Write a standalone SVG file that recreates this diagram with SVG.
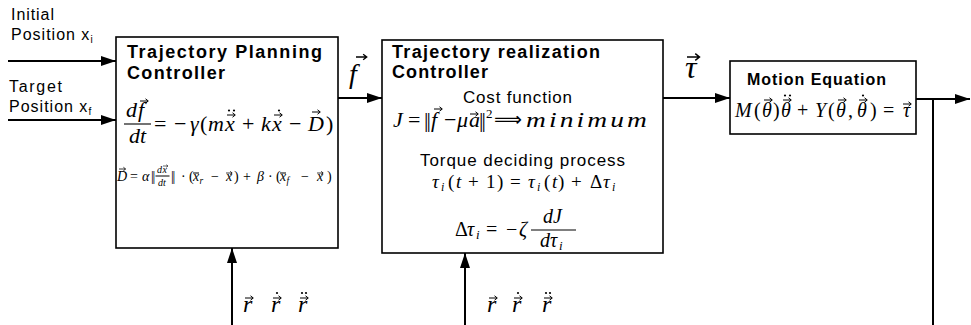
<svg xmlns="http://www.w3.org/2000/svg" width="971" height="325" viewBox="0 0 971 325">
<style>
.box{fill:#fff;stroke:#000;stroke-width:1.6}
.ln{stroke:#000;stroke-width:2;fill:none}
.fr{stroke:#000;stroke-width:1.1}
.sans{font-family:"Liberation Sans",Arial,sans-serif;fill:#000}
.b{font-weight:bold}
.m{font-family:"Liberation Serif","DejaVu Serif",serif;font-style:italic;fill:#000}
.u{font-style:normal}
.acc{stroke:#000;stroke-width:1;fill:none}
</style>
<defs>
<marker id="ah" markerUnits="userSpaceOnUse" markerWidth="15" markerHeight="10" refX="15" refY="5" orient="auto"><path d="M0,0 L15,5 L0,10 z" fill="#000"/></marker>
<g id="va"><path d="M0,0 H8 M5.5,-2.2 L8.3,0 L5.5,2.2" class="acc"/></g>
<circle id="dt" r="1.1" fill="#000"/>
</defs>
<rect width="971" height="325" fill="#fff"/>

<g id="connectors">
<line class="ln" x1="8" y1="61" x2="116" y2="61" marker-end="url(#ah)"/>
<line class="ln" x1="8" y1="120" x2="116" y2="120" marker-end="url(#ah)"/>
<line class="ln" x1="338" y1="98" x2="382" y2="98" marker-end="url(#ah)"/>
<line class="ln" x1="663" y1="98" x2="730" y2="98" marker-end="url(#ah)"/>
<line class="ln" x1="916" y1="99" x2="970" y2="99" marker-end="url(#ah)"/>
<line class="ln" x1="933" y1="99" x2="933" y2="325"/>
<line class="ln" x1="232" y1="325" x2="232" y2="248" marker-end="url(#ah)"/>
<line class="ln" x1="465" y1="325" x2="465" y2="253" marker-end="url(#ah)"/>
</g>

<g id="input-labels">
<text class="sans" font-size="16" x="11" y="20" textLength="43" lengthAdjust="spacing">Initial</text>
<text class="sans" font-size="16" x="11" y="40" letter-spacing="1">Position x<tspan font-size="10" dy="3" letter-spacing="0">i</tspan></text>
<text class="sans" font-size="16" x="9" y="92" textLength="53" lengthAdjust="spacing">Target</text>
<text class="sans" font-size="16" x="9" y="112" letter-spacing="1">Position x<tspan font-size="10" dy="3" letter-spacing="0">f</tspan></text>
</g>

<g id="signal-labels">
<text class="m" font-size="28" x="349" y="83">f</text>
<use href="#va" transform="translate(356,57) scale(1.3)"/>
<text class="m" font-size="32" x="685" y="78">τ</text>
<use href="#va" transform="translate(687,57) scale(1.5)"/>
<text class="m" font-size="24" y="312"><tspan x="243">r</tspan><tspan x="271">r</tspan><tspan x="298">r</tspan></text>
<use href="#va" x="245" y="298"/><use href="#va" x="273" y="298"/><use href="#va" x="300" y="298"/>
<use href="#dt" x="277" y="293"/><use href="#dt" x="302" y="293"/><use href="#dt" x="306" y="293"/>
<text class="m" font-size="24" y="312"><tspan x="487">r</tspan><tspan x="512">r</tspan><tspan x="542">r</tspan></text>
<use href="#va" x="489" y="298"/><use href="#va" x="514" y="298"/><use href="#va" x="544" y="298"/>
<use href="#dt" x="518" y="293"/><use href="#dt" x="546" y="293"/><use href="#dt" x="550" y="293"/>
</g>

<g id="planning">
<rect class="box" x="116" y="37" width="222" height="211"/>
<text class="sans b" font-size="18" x="127" y="58" textLength="195" lengthAdjust="spacing">Trajectory Planning</text>
<text class="sans b" font-size="18" x="127" y="79" textLength="98" lengthAdjust="spacing">Controller</text>
<text class="m" font-size="22"><tspan x="126" y="117">d</tspan><tspan x="138">f</tspan><tspan x="129" y="143">dt</tspan></text>
<use href="#va" x="140" y="101"/>
<line class="fr" x1="124" y1="124" x2="151" y2="124"/>
<text class="m" font-size="22" y="131"><tspan x="154" class="u">=</tspan><tspan x="174" class="u">−</tspan><tspan x="190">γ</tspan><tspan x="200" class="u">(</tspan><tspan x="208">m</tspan><tspan x="225">x</tspan><tspan x="242" class="u">+</tspan><tspan x="261">k</tspan><tspan x="272">x</tspan><tspan x="289" class="u">−</tspan><tspan x="308">D</tspan><tspan x="326" class="u">)</tspan></text>
<use href="#va" x="227" y="115"/><use href="#dt" x="229" y="110.5"/><use href="#dt" x="234" y="110.5"/>
<use href="#va" x="274" y="115"/><use href="#dt" x="279" y="110.5"/>
<use href="#va" x="312" y="112"/>
<text class="m" font-size="14" y="181"><tspan x="117">D</tspan><tspan x="130" class="u">=</tspan><tspan x="142">α</tspan><tspan x="151" class="u" letter-spacing="-1.2">||</tspan></text>
<text class="m" font-size="10"><tspan x="157" y="172.5">d</tspan><tspan x="162.5">x</tspan><tspan x="158" y="186">dt</tspan></text>
<use href="#va" transform="translate(163,166) scale(0.6)"/>
<line class="acc" x1="155.5" y1="176" x2="169.5" y2="176"/>
<text class="m" font-size="14" y="181"><tspan x="171" class="u" letter-spacing="-1.2">||</tspan><tspan x="181" class="u">·</tspan><tspan x="189" class="u">(</tspan><tspan x="193">x</tspan><tspan x="199.5" dy="3" font-size="9.5">r</tspan><tspan x="211" dy="-3" class="u">−</tspan><tspan x="226">x</tspan><tspan x="234" class="u">)</tspan><tspan x="243" class="u">+</tspan><tspan x="257">β</tspan><tspan x="268" class="u">·</tspan><tspan x="276" class="u">(</tspan><tspan x="280">x</tspan><tspan x="286.5" dy="3" font-size="9.5">f</tspan><tspan x="301" dy="-3" class="u">−</tspan><tspan x="317">x</tspan><tspan x="327" class="u">)</tspan></text>
<use href="#va" transform="translate(119,169) scale(0.8)"/>
<line class="acc" x1="193" y1="173" x2="199" y2="173"/>
<line class="acc" x1="280" y1="173" x2="286" y2="173"/>
<use href="#va" transform="translate(226,173) scale(0.75)"/>
<use href="#va" transform="translate(317,173) scale(0.75)"/>
</g>

<g id="realization">
<rect class="box" x="382" y="40" width="281" height="213"/>
<text class="sans b" font-size="18" x="392" y="58" textLength="208" lengthAdjust="spacing">Trajectory realization</text>
<text class="sans b" font-size="18" x="392" y="78" textLength="96" lengthAdjust="spacing">Controller</text>
<text class="sans" font-size="17" x="463" y="103" textLength="109" lengthAdjust="spacing">Cost function</text>
<text class="m" font-size="22" y="127"><tspan x="393">J</tspan><tspan x="408" class="u">=</tspan><tspan x="424" class="u" letter-spacing="-2">||</tspan><tspan x="431">f</tspan><tspan x="444" class="u">−</tspan><tspan x="457">μ</tspan><tspan x="469">a</tspan><tspan x="479" class="u" letter-spacing="-2">||</tspan><tspan x="486" dy="-9" font-size="13" class="u">2</tspan></text>
<text font-family="DejaVu Sans,sans-serif" font-size="20" x="494" y="126" textLength="28" lengthAdjust="spacingAndGlyphs">⟹</text>
<text class="m" font-size="22" x="526" y="127" letter-spacing="2.5" textLength="124" lengthAdjust="spacingAndGlyphs">minimum</text>
<use href="#va" x="434" y="109"/>
<use href="#va" x="470" y="114"/>
<text class="sans" font-size="17" x="420" y="166" textLength="205" lengthAdjust="spacing">Torque deciding process</text>
<text class="m" font-size="19" y="188"><tspan x="432">τ</tspan><tspan x="441" dy="3" font-size="12">i</tspan><tspan x="448" dy="-3" class="u">(</tspan><tspan x="456">t</tspan><tspan x="468" class="u">+</tspan><tspan x="486" class="u">1</tspan><tspan x="497" class="u">)</tspan><tspan x="510" class="u">=</tspan><tspan x="528">τ</tspan><tspan x="537" dy="3" font-size="12">i</tspan><tspan x="544" dy="-3" class="u">(</tspan><tspan x="552">t</tspan><tspan x="558" class="u">)</tspan><tspan x="571" class="u">+</tspan><tspan x="590" class="u">Δ</tspan><tspan x="603">τ</tspan><tspan x="612" dy="3" font-size="12">i</tspan></text>
<text class="m" font-size="20" y="236"><tspan x="455" class="u">Δ</tspan><tspan x="467">τ</tspan><tspan x="476" dy="3" font-size="13">i</tspan><tspan x="486" dy="-3" class="u">=</tspan><tspan x="506" class="u">−</tspan><tspan x="519">ζ</tspan></text>
<text class="m" font-size="20"><tspan x="543" y="223">d</tspan><tspan x="553">J</tspan><tspan x="540" y="247">d</tspan><tspan x="550">τ</tspan><tspan x="559" dy="3" font-size="13">i</tspan></text>
<line class="fr" x1="531" y1="230" x2="576" y2="230"/>
</g>

<g id="motion">
<rect class="box" x="730" y="61" width="186" height="73"/>
<text class="sans b" font-size="16" x="747" y="85" textLength="139" lengthAdjust="spacing">Motion Equation</text>
<text class="m" font-size="20" y="117"><tspan x="735">M</tspan><tspan x="754" class="u">(</tspan><tspan x="762">θ</tspan><tspan x="773" class="u">)</tspan><tspan x="781">θ</tspan><tspan x="797" class="u">+</tspan><tspan x="815">Y</tspan><tspan x="828" class="u">(</tspan><tspan x="836">θ</tspan><tspan x="848" class="u">,</tspan><tspan x="857">θ</tspan><tspan x="870" class="u">)</tspan><tspan x="883" class="u">=</tspan><tspan x="903">τ</tspan></text>
<use href="#va" x="764" y="100"/>
<use href="#va" x="783" y="100"/><use href="#dt" x="785" y="95.5"/><use href="#dt" x="790" y="95.5"/>
<use href="#va" x="838" y="100"/>
<use href="#va" x="859" y="100"/><use href="#dt" x="863" y="95.5"/>
<use href="#va" x="903" y="104"/>
</g>
</svg>
